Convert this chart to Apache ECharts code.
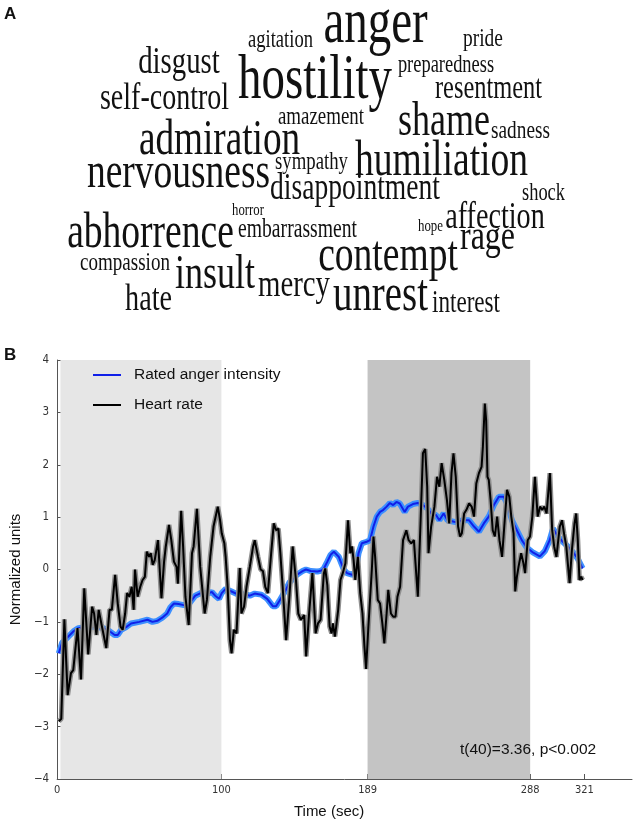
<!DOCTYPE html>
<html><head><meta charset="utf-8">
<script src="https://cdn.jsdelivr.net/npm/echarts@6/dist/echarts.min.js"></script>
<style>html,body{margin:0;padding:0;background:#fff}#c{width:636px;height:828px}</style>
</head><body><div id="c"></div>
<script>
// ---------- Panel A: word cloud data ----------
const cloudWords = ["anger","agitation","pride","disgust","hostility","preparedness","resentment","self-control","shame","sadness","amazement","admiration","humiliation","nervousness","sympathy","disappointment","shock","affection","horror","hope","abhorrence","embarrassment","rage","contempt","compassion","insult","hate","mercy","unrest","interest"];
const cloudWeights = [70,27.7,29,43,70,27.5,36.4,41.8,53.7,28.8,28.2,55.5,56,55.9,28,41.1,27.5,42,19,19.2,56,29.3,47.7,56,28.4,53.7,42,43,58,34.5];

// ---------- Panel B: time series ----------
const timeTicks = [0,100,189,288,321];
const baselineWindow = [2,100];
const angerWindow = [189,288];
const statText = "t(40)=3.36, p<0.002";

const heartRate = [[1,-2.9],[2.5,-2.85],[4.4,-0.95],[6.4,-2.4],[8.4,-1.98],[9.8,-1.92],[12.4,-1.12],[14.5,-2.1],[16.5,-0.36],[18.9,-1.62],[21.3,-0.71],[22.5,-0.84],[23.9,-1.25],[25.3,-0.77],[26.9,-1.03],[29.9,-1.5],[31.9,-0.77],[33.3,-0.77],[35.3,-0.1],[36.9,-0.65],[38.6,-1.09],[39.9,-1.15],[41.4,-0.84],[42.6,-0.45],[44,-0.52],[45.4,-0.33],[46.6,-0.77],[47.4,0],[49,-0.52],[50.6,-0.33],[52,-0.2],[53.4,-0.14],[54.6,0.34],[56,0.24],[57,0.31],[58.2,0.09],[59.4,0.18],[61.4,0.56],[63.5,-0.55],[65.1,0.15],[66.1,0.43],[68.1,0.85],[69.5,0.56],[71.1,0.15],[72.7,0.05],[73.5,-0.27],[75.5,1.12],[76.7,0.43],[78.1,-0.52],[80.1,-1.06],[82.1,0.31],[83.1,0.44],[85.1,1.16],[87.1,0.05],[89.8,-0.84],[91.2,-0.58],[93.2,0.24],[95.2,0.82],[97.8,1.2],[99.2,0.94],[100.2,0.69],[101.8,0.5],[102.6,0.24],[103.8,-0.33],[105.2,-1.35],[106.2,-1.6],[107.6,-1.15],[109.2,-1.22],[111.2,0.03],[112.2,-0.84],[113.8,-0.71],[115.3,-0.33],[117.3,0.05],[119.3,0.44],[120.3,0.56],[122.3,0.24],[123.9,0],[125.3,-0.03],[126.7,-0.33],[128.3,-0.45],[130.3,0.31],[131.9,0.88],[133.3,0.75],[134.7,0.78],[135.9,0.31],[137.3,-0.33],[139.4,-1.35],[141.4,-0.52],[143.4,0.44],[145.4,-0.2],[146.8,-0.84],[148.4,-0.96],[150.4,-0.87],[151.6,-1.66],[153.4,-0.84],[155.4,-0.07],[157.4,-1.22],[158.8,-1.03],[160.4,-0.96],[162.4,-0.07],[163.2,0.02],[164.5,-0.3],[165.9,-1.09],[167.1,-1.22],[167.9,-1.03],[169.1,-1.28],[169.9,-1.09],[171.1,-0.77],[172.5,-0.2],[173.9,-0.07],[175.5,0.12],[177.1,0.94],[178.5,0.31],[179.5,0.44],[180.5,0.18],[181.5,-0.2],[183.1,0.24],[184.5,-0.45],[185.9,-0.84],[187.1,-1.47],[188.1,-1.9],[189.5,-1.09],[191.6,0],[192.6,0.63],[193.6,0.24],[195.2,-0.58],[196.6,-0.65],[198,-1.03],[199.2,-1.41],[200.6,-0.84],[201.6,-0.39],[203.2,-0.84],[204.6,-0.9],[206,-0.9],[207.2,-0.52],[208.8,-0.33],[210.6,0.56],[212.6,0.75],[214,0.56],[215.6,0.5],[217.2,0.56],[218.6,-0.07],[219.6,-0.52],[221.3,0.94],[222.7,2.22],[224.1,2.3],[225.3,1.58],[226.1,0.31],[227.7,0.82],[229.7,1.2],[231.3,1.77],[232.7,1.58],[234.1,2.03],[235.7,1.71],[237.3,1.33],[238.7,0.88],[240.1,1.84],[241.3,2.22],[242.7,1.77],[244.1,0.82],[245.3,0.63],[246.4,0.69],[247.8,1.07],[249.2,1.14],[250.8,1.26],[252.4,1.2],[253.8,1.01],[255.2,1.64],[256.8,1.84],[258.4,1.96],[259.2,2.34],[260.4,3.17],[261.2,2.85],[262,1.77],[262.8,1.71],[263.9,1.33],[265.2,0.75],[266.5,0.63],[267.9,1.01],[269.3,0.56],[270.9,0.24],[272.5,0.94],[273.9,1.52],[275.3,1.39],[276.5,1.01],[277.9,0.69],[278.9,-0.42],[279.9,-0.14],[280.9,0.05],[282.5,0.31],[283.9,0.12],[284.9,-0.07],[286.5,0.56],[287.9,0.63],[289.3,1.01],[290.9,1.77],[292.6,1.01],[294,1.2],[295.4,1.14],[296.6,1.2],[298,1.07],[300,1.84],[301.4,0.75],[302.6,0.44],[304,0.24],[306,0.82],[307.4,0.94],[308.6,0.69],[310,0.44],[312,-0.26],[313.4,0.37],[315,0.88],[316,1.07],[317,0.56],[318,-0.2],[319,-0.14],[320,-0.2]];

const angerIntensity = [[1,-1.6],[3,-1.4],[6.8,-1.28],[10,-1.18],[12.8,-1.12],[17,-1.1],[22.9,-1.09],[28.1,-1.12],[32,-1.18],[35,-1.25],[36.9,-1.25],[39,-1.15],[42,-1.1],[45,-1.03],[50,-1.0],[55,-0.96],[58,-1.0],[61,-0.98],[64,-0.92],[67,-0.84],[69,-0.72],[71.1,-0.65],[74,-0.66],[77.1,-0.68],[80.1,-0.66],[84.1,-0.5],[88.1,-0.44],[91.2,-0.46],[94.2,-0.43],[96.2,-0.5],[98.6,-0.56],[100.2,-0.45],[102.6,-0.37],[106.2,-0.42],[110.2,-0.48],[114.3,-0.47],[117.3,-0.5],[120.3,-0.46],[124.3,-0.48],[127.9,-0.56],[131.3,-0.7],[133.3,-0.7],[135.3,-0.6],[137.5,-0.48],[139.4,-0.38],[141.4,-0.25],[143.4,-0.18],[146,-0.1],[149.4,-0.03],[151.5,0.0],[154.4,-0.03],[158.4,-0.04],[161,-0.02],[162.4,0.02],[164.5,0.15],[166.5,0.28],[168.5,0.34],[171.5,0.24],[174.5,0.0],[176.5,-0.07],[179.5,-0.1],[181.5,-0.07],[183.5,0.31],[185.5,0.5],[188.5,0.53],[190.5,0.56],[192.6,0.82],[194.6,1.01],[196.6,1.1],[198.6,1.14],[200.6,1.2],[202.6,1.27],[204.6,1.23],[206.6,1.29],[208.6,1.26],[211.6,1.1],[213.6,1.2],[216.6,1.25],[219.6,1.27],[222.7,1.23],[225.3,1.17],[227.7,1.07],[230.7,1.04],[232.7,0.94],[235.3,1.07],[237.7,0.94],[241.7,0.91],[243.8,0.9],[246.8,0.94],[250.8,0.94],[253.8,0.82],[256.8,0.72],[259.8,0.88],[262.8,1.01],[265.9,1.23],[268.9,1.39],[271.9,1.39],[273.9,1.26],[276.9,0.94],[279.9,0.75],[282.9,0.56],[285.9,0.42],[289.9,0.32],[293.9,0.25],[296.9,0.35],[299.9,0.56],[301.9,0.78],[304.9,0.63],[307.9,0.53],[310.9,0.44],[313.9,0.34],[316.9,0.21],[319.9,0.02]];

// ---------- layout (positions of the cloud words: centre x, baseline y) ----------
const cloudLayout = [[375.5,47],[280.5,49],[483,48],[179,76],[315,103],[446,74],[488.5,100],[164.5,112],[444,139],[520.5,140],[321,126],[219.5,158],[441.5,179],[178.5,191],[311.5,171],[355,202],[543.5,202],[495,231],[248,216],[430.5,232],[150.5,251],[297.5,239],[487.5,252],[388,274],[125,272],[215,292],[148.5,313],[294,299],[380.5,314],[466,314]];
const CLOUD_SIZE = 0.9;    // px per weight unit
const CLOUD_SQUEEZE = 0.745;

const SERIF = '"Liberation Serif","Times New Roman",serif';
const SANS = '"Liberation Sans",Arial,sans-serif';
const NARROW = '"Liberation Sans Narrow","DejaVu Sans Condensed","Liberation Sans",sans-serif';

const graphics = cloudWords.map((w, i) => {
  const f = cloudWeights[i] * CLOUD_SIZE;
  const [cx, base] = cloudLayout[i];
  return {
    type: 'text', x: cx, y: base - 0.3375 * f, scaleX: CLOUD_SQUEEZE, silent: true, z: 100,
    style: { text: w, font: f + 'px ' + SERIF, fill: '#111',
      textAlign: 'center', textVerticalAlign: 'middle', align: 'center', verticalAlign: 'middle' }
  };
});
graphics.push(
  { type: 'text', x: 4, y: 14, z: 100, style: { text: 'A', font: 'bold 17px ' + SANS, fill: '#111', textVerticalAlign: 'middle', verticalAlign: 'middle' } },
  { type: 'text', x: 4, y: 355, z: 100, style: { text: 'B', font: 'bold 17px ' + SANS, fill: '#111', textVerticalAlign: 'middle', verticalAlign: 'middle' } },
  { type: 'text', x: 460, y: 750, z: 100, style: { text: statText, font: '15.5px ' + SANS, fill: '#111', textVerticalAlign: 'middle', verticalAlign: 'middle' } }
);

const chart = echarts.init(document.getElementById('c'), null, { renderer: 'canvas' });
chart.setOption({
  animation: false,
  backgroundColor: '#fff',
  grid: { left: 53, right: 4, top: 360, bottom: 49 },
  xAxis: {
    type: 'value', min: 0, max: 350,
    name: 'Time (sec)', nameLocation: 'middle', nameGap: 25,
    nameTextStyle: { fontFamily: SANS, fontSize: 15, color: '#111', padding: [0, 31, 0, 0] },
    axisLine: { show: true, onZero: false, lineStyle: { color: '#555', width: 1 } },
    axisTick: { show: true, inside: true, length: 5, customValues: timeTicks, lineStyle: { color: '#555' } },
    axisLabel: { show: true, customValues: timeTicks, margin: 6, fontFamily: NARROW, fontSize: 11, color: '#333' },
    splitLine: { show: false }
  },
  yAxis: {
    type: 'value', min: -4, max: 4, interval: 1,
    name: 'Normalized units', nameLocation: 'middle', nameGap: 34, nameRotate: 90,
    nameTextStyle: { fontFamily: SANS, fontSize: 15, color: '#111' },
    axisLine: { show: true, onZero: false, lineStyle: { color: '#555', width: 1 } },
    axisTick: { show: true, inside: true, length: 4, lineStyle: { color: '#555' } },
    axisLabel: { margin: 8, fontFamily: NARROW, fontSize: 11.5, color: '#333', formatter: v => String(v).replace('-', '\u2212') },
    splitLine: { show: false }
  },
  legend: {
    data: ['Rated anger intensity', 'Heart rate'],
    orient: 'vertical', left: 88, top: 362, itemWidth: 28, itemHeight: 2, itemGap: 14,
    icon: 'rect', selectedMode: false,
    textStyle: { fontFamily: SANS, fontSize: 15.5, color: '#111', padding: [0, 0, 0, 8] }
  },
  graphic: graphics,
  series: [
    { type: 'line', name: 'windows', data: [], z: 1, silent: true,
      markArea: { silent: true, label: { show: false },
        data: [
          [{ xAxis: baselineWindow[0], itemStyle: { color: '#e6e6e6' } }, { xAxis: baselineWindow[1] }],
          [{ xAxis: angerWindow[0], itemStyle: { color: '#c4c4c4' } }, { xAxis: angerWindow[1] }]
        ] } },
    { type: 'line', name: 'anger band', data: angerIntensity, showSymbol: false, silent: true, z: 2,
      lineStyle: { color: '#3d8fff', width: 6 }, itemStyle: { color: '#3d8fff' } },
    { type: 'line', name: 'Rated anger intensity', data: angerIntensity, showSymbol: false, silent: true, z: 3,
      color: '#1020e8', lineStyle: { color: '#1020e8', width: 2 }, itemStyle: { color: '#1020e8' } },
    { type: 'line', name: 'heart band', data: heartRate, showSymbol: false, silent: true, z: 4,
      lineStyle: { color: '#8f8f8f', width: 5 }, itemStyle: { color: '#8f8f8f' } },
    { type: 'line', name: 'Heart rate', data: heartRate, showSymbol: false, silent: true, z: 5,
      color: '#000', lineStyle: { color: '#000', width: 2 }, itemStyle: { color: '#000' } }
  ]
});
</script></body></html>
